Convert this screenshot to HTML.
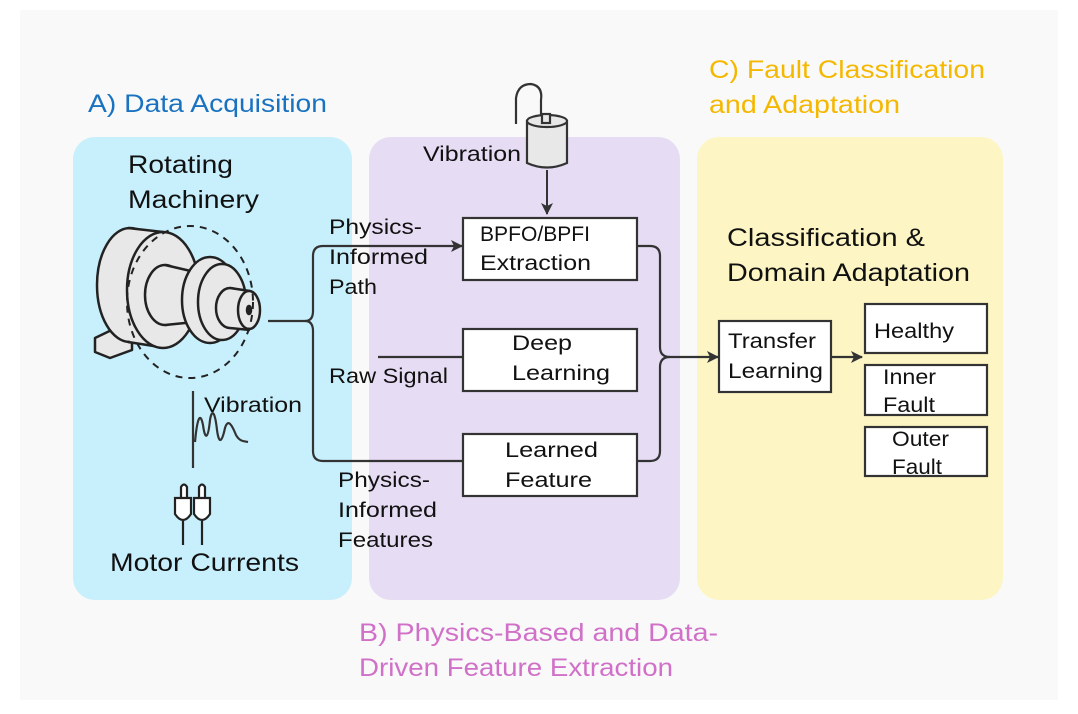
<!DOCTYPE html>
<html><head><meta charset="utf-8"><style>
html,body{margin:0;padding:0;background:#fff;}
svg{display:block;font-family:"Liberation Sans",sans-serif;}
</style></head><body>
<svg width="1078" height="714" viewBox="0 0 1078 714" xmlns="http://www.w3.org/2000/svg">
<defs>
<marker id="ar" markerWidth="12" markerHeight="12" refX="11" refY="6" orient="auto" markerUnits="userSpaceOnUse">
<path d="M0,0 L12,6 L0,12 L3,6 Z" fill="#333"/></marker>
</defs>
<rect x="20" y="10" width="1038" height="690" fill="#f9f9f9"/>
<rect x="369" y="137" width="311" height="463" rx="22" fill="#e6dcf4"/>
<rect x="73" y="137" width="279" height="463" rx="22" fill="#c8f0fc"/>
<rect x="697" y="137" width="306" height="463" rx="22" fill="#fdf6c4"/>

<g font-size="25" lengthAdjust="spacingAndGlyphs">
<text x="88" y="112" fill="#1a73c0" textLength="239" lengthAdjust="spacingAndGlyphs">A) Data Acquisition</text>
<text x="709" y="78" fill="#f5b800" textLength="276" lengthAdjust="spacingAndGlyphs">C) Fault Classification</text>
<text x="709" y="113" fill="#f5b800" textLength="191" lengthAdjust="spacingAndGlyphs">and Adaptation</text>
<text x="359" y="641" fill="#d070c8" textLength="359" lengthAdjust="spacingAndGlyphs">B) Physics-Based and Data-</text>
<text x="359" y="676" fill="#d070c8" textLength="314" lengthAdjust="spacingAndGlyphs">Driven Feature Extraction</text>
<text x="128" y="173" fill="#111" textLength="105" lengthAdjust="spacingAndGlyphs">Rotating</text>
<text x="128" y="208" fill="#111" textLength="131" lengthAdjust="spacingAndGlyphs">Machinery</text>
<text x="110" y="571" fill="#111" textLength="189" lengthAdjust="spacingAndGlyphs">Motor Currents</text>
<text x="727" y="246" fill="#111" textLength="198" lengthAdjust="spacingAndGlyphs">Classification &amp;</text>
<text x="727" y="281" fill="#111" textLength="243" lengthAdjust="spacingAndGlyphs">Domain Adaptation</text>
</g>
<g font-size="21" fill="#111">
<text x="329" y="234" textLength="93" lengthAdjust="spacingAndGlyphs">Physics-</text>
<text x="329" y="264" textLength="99" lengthAdjust="spacingAndGlyphs">Informed</text>
<text x="329" y="294" textLength="48" lengthAdjust="spacingAndGlyphs">Path</text>
<text x="329" y="383" textLength="119" lengthAdjust="spacingAndGlyphs">Raw Signal</text>
<text x="338" y="487" textLength="92" lengthAdjust="spacingAndGlyphs">Physics-</text>
<text x="338" y="517" textLength="99" lengthAdjust="spacingAndGlyphs">Informed</text>
<text x="338" y="547" textLength="95" lengthAdjust="spacingAndGlyphs">Features</text>
<text x="423" y="161" textLength="98" lengthAdjust="spacingAndGlyphs">Vibration</text>
<text x="204" y="412" textLength="98" lengthAdjust="spacingAndGlyphs">Vibration</text>
</g>

<!-- machine -->
<g stroke="#222" stroke-width="2.5" fill="#e8e8e8" stroke-linejoin="round">
<path d="M95,338 L120,326 L132,338 L132,350 L110,358 L95,352 Z"/>
<ellipse cx="130" cy="285" rx="33" ry="57"/>
<path d="M130,228 L165,232 L165,345 L130,342 Z" stroke="none"/>
<line x1="128" y1="228" x2="163" y2="232"/>
<line x1="128" y1="342" x2="160" y2="347"/>
<ellipse cx="163" cy="290" rx="36" ry="58"/>
<ellipse cx="165" cy="295" rx="20" ry="30"/>
<path d="M165,265 L192,272 L192,323 L165,325 Z" stroke="none"/>
<line x1="165" y1="265" x2="195" y2="272"/>
<line x1="165" y1="325" x2="195" y2="322"/>
<ellipse cx="210" cy="300" rx="28" ry="43"/>
<ellipse cx="222" cy="302" rx="24" ry="38"/>
<ellipse cx="230" cy="308" rx="14" ry="20"/>
<path d="M230,288 L250,290 L250,330 L230,328 Z" stroke="none"/>
<line x1="230" y1="288" x2="250" y2="291"/>
<line x1="230" y1="328" x2="250" y2="330"/>
<ellipse cx="249" cy="310" rx="11" ry="19"/>
<ellipse cx="249" cy="310" rx="2" ry="4" fill="#222"/>
</g>
<ellipse cx="190" cy="302" rx="63" ry="76" fill="none" stroke="#222" stroke-width="2" stroke-dasharray="7,6"/>

<!-- vibration signal -->
<g stroke="#333" stroke-width="2.2" fill="none">
<line x1="193" y1="391" x2="193" y2="468"/>
<path d="M195,442 C197,420 200,410 203,425 C205,440 208,440 210,420 C212,408 215,412 217,430 C219,445 222,442 225,428 C228,418 232,425 236,435 C240,442 244,441 248,442"/>
</g>
<!-- plugs -->
<g stroke="#222" stroke-width="2.2" fill="#fff">
<path d="M181,498 L181,487 Q184,482 187,487 L187,498"/>
<path d="M199,498 L199,487 Q202,482 205,487 L205,498"/>
<path d="M175,498 L191,498 L191,514 Q183,526 175,514 Z"/>
<path d="M194,498 L210,498 L210,514 Q202,526 194,514 Z"/>
<line x1="183" y1="521" x2="183" y2="545"/>
<line x1="202" y1="521" x2="202" y2="545"/>
</g>
<!-- sensor -->
<g stroke="#333" stroke-width="2.2" fill="#e8e8e8">
<path d="M516,124 L516,98 Q518,84 531,84 Q543,86 541,100 L541,117" fill="none"/>
<path d="M527,121 L527,163 Q547,172 567,163 L567,121 Z"/>
<ellipse cx="547" cy="121" rx="20" ry="6"/>
<rect x="542" y="114" width="8" height="9"/>
</g>
<line x1="547" y1="170" x2="547" y2="214" stroke="#333" stroke-width="2" marker-end="url(#ar)"/>

<!-- connectors -->
<g stroke="#333" stroke-width="2.2" fill="none">
<path d="M268,321 L305,321 Q313,321 313,311 L313,256 Q313,246 323,246 L462,246" marker-end="url(#ar)"/>
<path d="M305,321 Q313,321 313,331 L313,451 Q313,461 323,461 L463,461"/>
<line x1="378" y1="357" x2="463" y2="357"/>
<path d="M637,246 L650,246 Q660,246 660,256 L660,347 Q660,357 670,357 L718,357" marker-end="url(#ar)"/>
<path d="M637,461 L650,461 Q660,461 660,451 L660,367 Q660,357 670,357"/>
<line x1="831" y1="357" x2="862" y2="357" marker-end="url(#ar)"/>
</g>

<!-- boxes -->
<g stroke="#333" stroke-width="2.2" fill="#fff">
<rect x="463" y="218" width="174" height="62"/>
<rect x="463" y="329" width="174" height="62"/>
<rect x="463" y="434" width="174" height="62"/>
<rect x="719" y="321" width="112" height="71"/>
<rect x="865" y="304" width="122" height="49"/>
<rect x="865" y="365" width="122" height="50"/>
<rect x="865" y="427" width="122" height="49"/>
</g>
<g font-size="21" fill="#111">
<text x="480" y="241" textLength="110" lengthAdjust="spacingAndGlyphs">BPFO/BPFI</text>
<text x="480" y="270" textLength="111" lengthAdjust="spacingAndGlyphs">Extraction</text>
<text x="512" y="350" textLength="60" lengthAdjust="spacingAndGlyphs">Deep</text>
<text x="512" y="380" textLength="98" lengthAdjust="spacingAndGlyphs">Learning</text>
<text x="505" y="457" textLength="93" lengthAdjust="spacingAndGlyphs">Learned</text>
<text x="505" y="487" textLength="87" lengthAdjust="spacingAndGlyphs">Feature</text>
<text x="728" y="348" textLength="88" lengthAdjust="spacingAndGlyphs">Transfer</text>
<text x="728" y="378" textLength="95" lengthAdjust="spacingAndGlyphs">Learning</text>
<text x="874" y="338" textLength="80" lengthAdjust="spacingAndGlyphs">Healthy</text>
<text x="883" y="384" textLength="53" lengthAdjust="spacingAndGlyphs">Inner</text>
<text x="883" y="412" textLength="52" lengthAdjust="spacingAndGlyphs">Fault</text>
<text x="892" y="446" textLength="57" lengthAdjust="spacingAndGlyphs">Outer</text>
<text x="892" y="474" textLength="50" lengthAdjust="spacingAndGlyphs">Fault</text>
</g>
</svg>
</body></html>
